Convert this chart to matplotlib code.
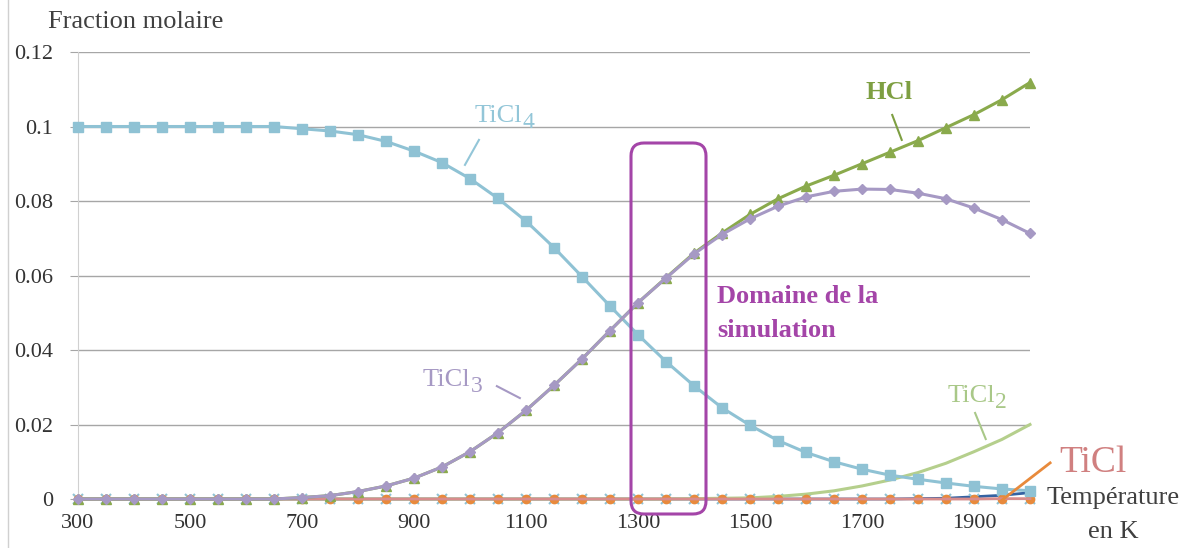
import matplotlib
matplotlib.use("Agg")
import matplotlib.pyplot as plt
from matplotlib.patches import FancyBboxPatch
from matplotlib.lines import Line2D

plt.rcParams['font.family'] = ['Liberation Serif', 'DejaVu Serif']

# Températures (K)
temperatures = list(range(300, 2001, 50))

ticl4 = [0.1, 0.1, 0.1, 0.1, 0.1, 0.1, 0.1, 0.1,
         0.0994, 0.0988, 0.0978, 0.0960, 0.0934, 0.0903, 0.0860, 0.0807,
         0.0746, 0.0675, 0.0597, 0.0518, 0.0441, 0.0369, 0.0304, 0.0245,
         0.0198, 0.0157, 0.0125, 0.0100, 0.0080, 0.0064, 0.0053, 0.0043,
         0.0034, 0.0027, 0.0022]

ticl3 = [0, 0, 0, 0, 0, 0, 0, 0,
         0.0004, 0.0009, 0.0020, 0.0035, 0.0056, 0.0086, 0.0127, 0.0178,
         0.0238, 0.0305, 0.0376, 0.0452, 0.0527, 0.0593, 0.0658, 0.0710,
         0.0752, 0.0786, 0.0811, 0.0826, 0.0832, 0.0831, 0.0821, 0.0806,
         0.0781, 0.0750, 0.0713]

hcl = [0, 0, 0, 0, 0, 0, 0, 0,
       0.0004, 0.0009, 0.0020, 0.0035, 0.0056, 0.0086, 0.0127, 0.0178,
       0.0238, 0.0305, 0.0376, 0.0452, 0.0527, 0.0594, 0.0660, 0.0714,
       0.0764, 0.0806, 0.0840, 0.0869, 0.0900, 0.0931, 0.0962, 0.0997,
       0.1032, 0.1072, 0.1118]

ticl2 = [0] * 22 + [0.0001, 0.0002, 0.0003, 0.0007, 0.0013, 0.0022, 0.0035,
                    0.0051, 0.0071, 0.0096, 0.0127, 0.0160, 0.0200]

ticl = [0] * 33 + [0.0001, 0.0001]
autre_bleu = [0] * 30 + [0.0001, 0.0002, 0.0006, 0.0010, 0.0017]
autre_orange = [0] * 35
autre_x = [0] * 35

y_ticks = [0, 0.02, 0.04, 0.06, 0.08, 0.1, 0.12]
y_labels = ['0', '0.02', '0.04', '0.06', '0.08', '0.1', '0.12']
x_ticks = list(range(300, 2000, 200))

c_ticl4 = '#8FC2D4'
c_hcl = '#8AAA4C'
c_ticl3 = '#A699C4'
c_ticl2 = '#B5CF8C'
c_ticl = '#D88C8C'
c_orange = '#E88A3C'
c_bleu = '#3462A2'
c_violet = '#A445A8'

fig = plt.figure(figsize=(11.91, 5.48), dpi=100)
ax = fig.add_axes([0.0655, 0.0894, 0.7993, 0.8157])

ax.plot(temperatures, autre_bleu, color=c_bleu, lw=2, zorder=1.5, clip_on=False)
ax.plot(temperatures, autre_x, color=c_ticl4, lw=0, marker='x', ms=7, mew=1.5, zorder=2, clip_on=False)
ax.plot(temperatures, ticl2, color=c_ticl2, lw=2.2, zorder=3, clip_on=False)
ax.plot(temperatures, autre_orange, color=c_orange, lw=0, marker='o', ms=6, zorder=4, clip_on=False)
ax.plot(temperatures, ticl, color=c_ticl, lw=2, zorder=5, clip_on=False)
ax.plot(temperatures, ticl4, color=c_ticl4, lw=2.2, marker='s', ms=7.5, zorder=7, clip_on=False)
ax.plot(temperatures, hcl, color=c_hcl, lw=2.2, marker='^', ms=7, zorder=8, clip_on=False)
ax.plot(temperatures, ticl3, color=c_ticl3, lw=2.2, marker='D', ms=5, zorder=9, clip_on=False)

ax.set_xlim(300, 2000)
ax.set_ylim(0, 0.12)
ax.set_yticks(y_ticks)
ax.set_yticklabels(y_labels)
ax.set_xticks(x_ticks)
ax.grid(axis='y', color='#A6A6A6', lw=1)
ax.set_axisbelow(True)
for s in ['top', 'right']:
    ax.spines[s].set_visible(False)
ax.spines['left'].set_color('#D0D0D0')
ax.spines['bottom'].set_color('#8C8C8C')
ax.tick_params(axis='y', length=6, color='#A6A6A6', pad=12, labelsize=16, labelcolor='#333333')
ax.tick_params(axis='x', length=0, pad=11, labelsize=16, labelcolor='#333333')


def etiquette(x, y, base, indice, couleur):
    # texte "TiCl" puis l'indice, presque de même taille, un peu plus bas
    t = ax.text(x, y, base, color=couleur, fontsize=19, ha='left', va='baseline')
    fig.canvas.draw()
    x_px = t.get_window_extent().x1
    _, y_px = ax.transData.transform((x, y))
    ax.text(x_px, y_px - 6, indice, color=couleur, fontsize=17, ha='left', va='baseline',
            transform=None)


# étiquettes des courbes
etiquette(1009, 0.1012, 'TiCl', '4', '#93C6D8')
ax.plot([1016, 991], [0.0964, 0.0897], color='#93C6D8', lw=1.5)
etiquette(916, 0.0303, 'TiCl', '3', c_ticl3)
ax.plot([1048, 1089], [0.0303, 0.0271], color=c_ticl3, lw=1.5)
ax.text(1748, 0.109, 'HCl', color='#7E9F42', fontsize=19, fontweight='bold', ha='center', va='center')
ax.plot([1754, 1771], [0.1031, 0.0964], color='#7E9F42', lw=1.5)
etiquette(1852, 0.0260, 'TiCl', '2', '#A9C888')
ax.plot([1902, 1921], [0.0231, 0.0161], color='#A9C888', lw=1.5)
ax.text(2112, 0.0097, 'TiCl', color='#D08080', fontsize=27, ha='center', va='center', clip_on=False)
ax.plot([1950, 2036], [-0.0003, 0.0097], color=c_orange, lw=2, clip_on=False, zorder=10)

ax.text(1441, 0.0526, 'Domaine de la', color=c_violet, fontsize=19,
        fontweight='bold', ha='left', va='baseline')
ax.text(1441, 0.0436, 'simulation', color=c_violet, fontsize=19,
        fontweight='bold', ha='left', va='baseline')

box = FancyBboxPatch((6.31, 0.34), 0.75, 3.71, boxstyle='round,pad=0,rounding_size=0.13',
                     transform=fig.dpi_scale_trans, fill=False, edgecolor=c_violet, lw=2.2, zorder=11)
fig.patches.append(box)

fig.text(0.040, 0.96, 'Fraction molaire', fontsize=19, color='#404040', ha='left', va='center')
fig.text(0.9345, 0.091, 'Température', fontsize=19, color='#404040', ha='center', va='center')
fig.text(0.9345, 0.029, 'en K', fontsize=19, color='#404040', ha='center', va='center')
fig.add_artist(Line2D([0.0067, 0.0067], [0, 1], color='#D0D0D0', lw=1))

fig.savefig('out.png', dpi=100)
